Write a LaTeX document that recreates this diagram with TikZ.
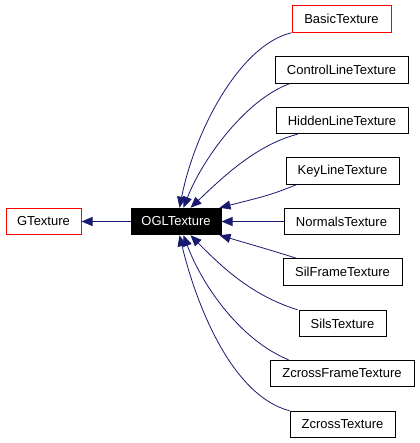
\documentclass[tikz,border=0pt]{standalone}
\usepackage{fontspec}
\setmainfont{Liberation Sans}
\usetikzlibrary{arrows.meta}
\definecolor{edgeblue}{RGB}{25,25,112}
\begin{document}
\begin{tikzpicture}[x=1pt,y=-1pt,
  cls/.style={draw=black,fill=white,line width=1pt,inner sep=0pt,minimum height=26.5pt,font=\fontsize{13}{15}\selectfont},
  redcls/.style={cls,draw=red},
  cur/.style={draw=black,fill=black,text=white,line width=1pt,inner sep=0pt,minimum height=26.5pt,font=\fontsize{13}{15}\selectfont},
  inh/.style={draw=edgeblue,line width=0.8pt,-{Triangle[length=11pt,width=9pt]}}]
\useasboundingbox (0,0) rectangle (419,443);
\node[redcls,minimum width=75pt] (g) at (43.5,221.5) {GTexture};
\node[cur,minimum width=90pt] (ogl) at (176,221.5) {OGLTexture};
\node[redcls,minimum width=99pt] (basic) at (341.5,19) {BasicTexture};
\node[cls,minimum width=133pt] (ctrl) at (341.5,70) {ControlLineTexture};
\node[cls,minimum width=132pt] (hid) at (342,120.5) {HiddenLineTexture};
\node[cls,minimum width=113pt] (key) at (342.5,171) {KeyLineTexture};
\node[cls,minimum width=115pt] (nrm) at (341.5,221.5) {NormalsTexture};
\node[cls,minimum width=119pt] (silf) at (342.5,272) {SilFrameTexture};
\node[cls,minimum width=87pt] (sils) at (342.5,323.5) {SilsTexture};
\node[cls,minimum width=144pt] (zcf) at (342,373.5) {ZcrossFrameTexture};
\node[cls,minimum width=105pt] (zc) at (342.5,424.5) {ZcrossTexture};

\draw[inh] (ogl.west) -- (g.east);
\draw[inh] (basic.south west) .. controls (240,45) and (195,130) .. ([xshift=49pt]ogl.north west);
\draw[inh] ([xshift=15pt]ctrl.south west) .. controls (245,100) and (202,160) .. ([xshift=53pt]ogl.north west);
\draw[inh] ([xshift=22pt]hid.south west) .. controls (255,145) and (220,180) .. ([xshift=60pt]ogl.north west);
\draw[inh] ([xshift=11pt]key.south west) .. controls (270,195) .. ([xshift=-2pt]ogl.north east);
\draw[inh] (nrm.west) -- (ogl.east);
\draw[inh] ([xshift=14pt]silf.north west) .. controls (270,250) .. ([xshift=-2pt]ogl.south east);
\draw[inh] ([xshift=-1pt]sils.north west) .. controls (250,295) and (220,265) .. ([xshift=60pt]ogl.south west);
\draw[inh] ([xshift=19pt]zcf.north west) .. controls (240,340) and (202,285) .. ([xshift=53pt]ogl.south west);
\draw[inh] (zc.north west) .. controls (230,395) and (195,300) .. ([xshift=49pt]ogl.south west);
\end{tikzpicture}
\end{document}
